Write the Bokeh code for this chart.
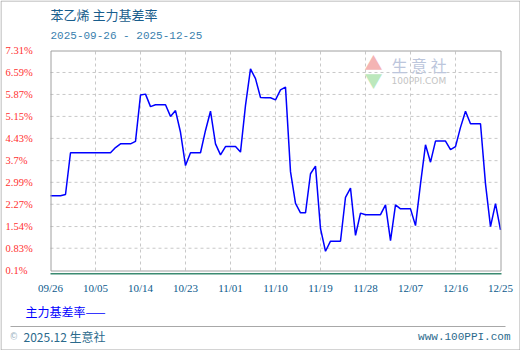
import pandas as pd
from bokeh.plotting import figure
from bokeh.models import Range1d, LabelSet, Label, ColumnDataSource, BoxAnnotation
from bokeh.embed import file_html
from bokeh.resources import INLINE

# ---------------- data ----------------
dates = pd.date_range("2025-09-26", "2025-12-25", freq="D")
basis_rate = [2.55, 2.55, 2.55, 2.59, 3.96, 3.96, 3.96, 3.96, 3.96, 3.96,
              3.96, 3.96, 3.96, 4.13, 4.25, 4.25, 4.25, 4.33, 5.85, 5.88,
              5.47, 5.53, 5.53, 5.53, 5.15, 5.34, 4.63, 3.54, 3.96, 3.96,
              3.96, 4.69, 5.32, 4.25, 3.89, 4.16, 4.16, 4.16, 3.98, 5.51,
              6.71, 6.39, 5.77, 5.76, 5.76, 5.69, 6.02, 6.11, 3.34, 2.30,
              1.99, 1.99, 3.27, 3.52, 1.47, 0.73, 1.06, 1.06, 1.06, 2.50,
              2.80, 1.25, 1.98, 1.93, 1.93, 1.93, 1.93, 2.25, 1.08, 2.25,
              2.12, 2.12, 2.12, 1.57, 2.94, 4.22, 3.65, 4.34, 4.34, 4.34,
              4.06, 4.16, 4.79, 5.32, 4.91, 4.91, 4.91, 2.94, 1.54, 2.29,
              1.43]

x_tick_dates = ["2025-09-26", "2025-10-05", "2025-10-14", "2025-10-23",
                "2025-11-01", "2025-11-10", "2025-11-19", "2025-11-28",
                "2025-12-07", "2025-12-16", "2025-12-25"]
x_tick_labels = ["09/26", "10/05", "10/14", "10/23", "11/01", "11/10",
                 "11/19", "11/28", "12/07", "12/16", "12/25"]
y_ticks = [0.1, 0.83, 1.54, 2.27, 2.99, 3.7, 4.43, 5.15, 5.87, 6.59, 7.31]
y_tick_labels = ["0.1%", "0.83%", "1.54%", "2.27%", "2.99%", "3.7%",
                 "4.43%", "5.15%", "5.87%", "6.59%", "7.31%"]

title_text = "苯乙烯 主力基差率"
subtitle_text = "2025-09-26 - 2025-12-25"
series_name = "主力基差率"

# ---------------- layout ----------------
W, H = 520, 350
FL, FR, FT, FB = 50, 500, 50, 270          # plot-area box in pixels
MONO = "Liberation Mono"
CJK = "Noto Sans CJK SC"

x0 = pd.Timestamp(x_tick_dates[0])
x1 = pd.Timestamp(x_tick_dates[-1])
xpp = (x1 - x0) / (FR - FL)                 # time per pixel
ymin, ymax = y_ticks[0], y_ticks[-1]
ypp = (ymax - ymin) / (FB - FT)             # value per pixel

p = figure(width=W, height=H, output_backend="svg", toolbar_location=None,
           x_axis_type="datetime",
           x_range=Range1d(x0 - xpp * FL, x1 + xpp * (W - FR)),
           y_range=Range1d(ymin - ypp * (H - FB), ymax + ypp * FT),
           min_border=0, x_axis_location=None, y_axis_location=None)
p.background_fill_color = "white"
p.border_fill_color = "white"
p.outline_line_color = None
p.grid.visible = False

tick_x = [pd.Timestamp(d) for d in x_tick_dates]

# dashed grid
p.segment(x0=tick_x[1:-1], y0=[ymin] * 9, x1=tick_x[1:-1], y1=[ymax] * 9,
          line_color="#c8c8c8", line_dash="3 3", line_width=1)
p.segment(x0=[x0] * 9, y0=y_ticks[1:-1], x1=[x1] * 9, y1=y_ticks[1:-1],
          line_color="#c8c8c8", line_dash="3 3", line_width=1)

def lab(txt, x, y, size, color, font, align="left", baseline="middle"):
    p.add_layout(Label(x=x, y=y, x_units="canvas", y_units="canvas",
                       text=txt, text_font=font, text_font_size=size,
                       text_color=color, text_align=align,
                       text_baseline=baseline))

def cbox(l, r, t, b, **kw):
    p.add_layout(BoxAnnotation(left=l, right=r, top=t, bottom=b,
                               left_units="canvas", right_units="canvas",
                               top_units="canvas", bottom_units="canvas", **kw))

# watermark
lab("▲", 373, 61, "18px", "#f4b4b4", CJK, align="center")
lab("▼", 373, 79, "18px", "#bce8bc", CJK, align="center")
lab("生 意 社", 391, 64, "16px", "#bcc6dc", CJK)
lab("100PPI.COM", 391, 80, "9px", "#c4c4c4", "DejaVu Sans")

# frame box
cbox(FL + 0.5, FR + 0.5, FT + 0.5, FB + 0.5, fill_alpha=0,
     line_color="#a0a0a0", line_alpha=1, line_width=1)

# series
p.line(dates, basis_rate, line_color="#0000ff", line_width=1.5)

# tick labels
ysrc = ColumnDataSource(dict(y=y_ticks, t=y_tick_labels, x=[5] * len(y_ticks)))
p.add_layout(LabelSet(x="x", y="y", text="t", source=ysrc, x_units="canvas",
                      text_align="left", text_baseline="middle",
                      text_font=MONO, text_font_size="10.5px",
                      text_color="#ff3030"))
xsrc = ColumnDataSource(dict(x=tick_x, t=x_tick_labels, y=[287] * len(tick_x)))
p.add_layout(LabelSet(x="x", y="y", text="t", source=xsrc, y_units="canvas",
                      text_align="center", text_baseline="middle",
                      text_font=MONO, text_font_size="11px",
                      text_color="#0b5a8c"))

lab(title_text, 50, 14, "13px", "#185d8c", CJK)
lab(subtitle_text, 50, 35, "11px", "#3a7fae", MONO)
lab(series_name + "——", 25, 311, "12px", "#0000ff", CJK)
lab("©", 10, 336, "11px", "#9ab0c0", MONO)
lab("2025.12 生意社", 23, 336, "12px", "#2b6a8c", CJK)
lab("www.100PPI.com", 510, 336, "11px", "#2b6a8c", MONO, align="right")

# green line under the frame, footer separator and outer border
cbox(50, 501, 272.5, 274, fill_color="#3a8a70", fill_alpha=1,
     line_color=None)
cbox(10, 505, 325.5, 326.5, fill_color="#a8a8a8", fill_alpha=1,
     line_color=None)
cbox(0.5, W - 0.5, 0.5, H - 0.5, fill_alpha=0, line_color="#a8a8a8",
     line_alpha=1, line_width=1)

open("out.html", "w").write(file_html(p, INLINE))
